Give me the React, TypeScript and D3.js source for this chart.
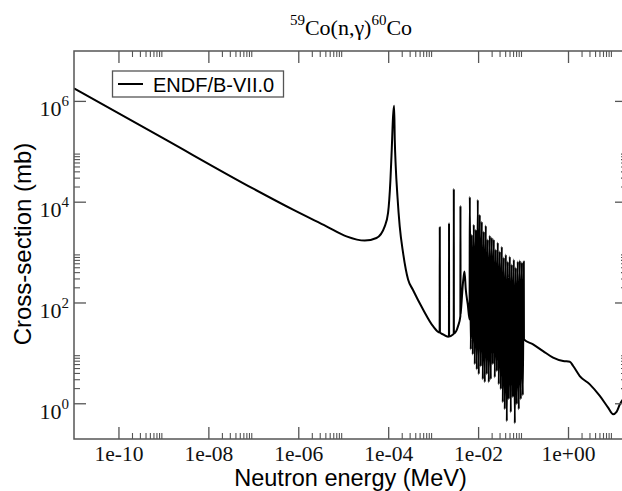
import React from "react";
import * as d3 from "d3";

// ENDF/B-VII.0 59Co(n,g)60Co capture cross-section
// thermal / 1/v region and the 132 eV resonance
const thermalEnergy = [1e-11, 1e-9, 1e-7, 7.45e-7, 4.12e-6, 1.15e-5, 2.93e-5, 5.35e-5, 8.17e-5, 9.68e-5,
  1.094e-4, 1.169e-4, 1.25e-4, 1.32e-4, 1.365e-4, 1.435e-4, 1.567e-4, 1.76e-4, 2.09e-4, 2.7e-4,
  3.43e-4, 5.82e-4, 9.7e-4];
const thermalSigma = [1.82e6, 1.82e5, 1.83e4, 7.1e3, 3.32e3, 2.1e3, 1.73e3, 1.95e3, 3.32e3, 6.11e3,
  2.79e4, 1.1e5, 5.0e5, 8.15e5, 1.73e5, 5.12e4, 1.3e4, 3.32e3, 986, 292,
  185, 74.3, 34.7];

// isolated narrow resonances between 1 keV and 6 keV
const isolatedEnergy = [1.36e-3, 1.37e-3, 1.38e-3, 1.62e-3, 2.09e-3, 2.19e-3, 2.2e-3, 2.21e-3, 2.7e-3,
  2.8e-3, 2.81e-3, 2.82e-3, 3.49e-3, 3.93e-3, 3.95e-3, 3.97e-3, 4.01e-3, 4.52e-3, 4.85e-3, 5.19e-3,
  5.74e-3, 6.3e-3];
const isolatedSigma = [26, 3.17e3, 26, 23.8, 21.4, 21.5, 3.87e3, 21.5, 23.8,
  24.5, 1.85e4, 25, 34.7, 55, 8.5e3, 60, 64.9, 267, 421, 185,
  93.4, 47];

// resolved resonance forest, 6 keV - 100 keV
const forestEnergy = [6.37e-3, 6.7e-3, 7.05e-3, 7.42e-3, 7.81e-3, 8.22e-3, 8.66e-3, 9.12e-3, 9.59e-3, 1.009e-2,
  1.062e-2, 1.118e-2, 1.177e-2, 1.239e-2, 1.304e-2, 1.373e-2, 1.445e-2, 1.521e-2, 1.6e-2, 1.685e-2,
  1.774e-2, 1.867e-2, 1.965e-2, 2.068e-2, 2.18e-2, 2.29e-2, 2.41e-2, 2.54e-2, 2.67e-2, 2.81e-2,
  2.96e-2, 3.12e-2, 3.28e-2, 3.45e-2, 3.63e-2, 3.82e-2, 4.03e-2, 4.24e-2, 4.46e-2, 4.69e-2,
  4.94e-2, 5.2e-2, 5.47e-2, 5.76e-2, 6.07e-2, 6.39e-2, 6.72e-2, 7.07e-2, 7.44e-2, 7.83e-2,
  8.25e-2, 8.68e-2, 9.14e-2, 9.62e-2, 0.1012];
const forestSigma = [1.28e4, 12, 2.27e3, 9.5, 3.58e3, 6.1, 2.85e3, 4.8, 1.12e4, 3.84,
  5.65e3, 5.5, 4.11e3, 3.05, 2.61e3, 2.67, 3.43e3, 3.84, 1.81e3, 2.67,
  2.17e3, 3.05, 1.98e3, 6.1, 1.81e3, 3.35, 1.15e3, 4.4, 1.58e3, 2.43,
  1.05e3, 1.94, 1.31e3, 1.07, 796, 0.78, 912, 0.45, 663, 1.23,
  834, 0.68, 578, 1.35, 726, 0.41, 505, 0.98, 663, 0.78,
  695, 1.23, 634, 1.47, 663];

// fast region
const fastEnergy = [0.102, 0.163, 0.272, 0.454, 0.759, 1.07, 1.27, 1.78, 2.98, 4.97, 7.6, 9.82, 11.7, 13.9, 20];
const fastSigma = [19, 15.1, 11.1, 8.22, 7.04, 6.85, 5.61, 3.55, 2.43, 1.43, 0.84, 0.62, 0.69, 0.98, 1.5];

const xMajorTicks = [1e-10, 1e-8, 1e-6, 1e-4, 1e-2, 1];
const xTickLabels = ["1e-10", "1e-08", "1e-06", "1e-04", "1e-02", "1e+00"];
const yMajorTicks = [1, 1e2, 1e4, 1e6];
const yTickExponents = ["0", "2", "4", "6"];
const yMinorDecades = [1, 1e2, 1e4];
const minorMultipliers = [2, 3, 4, 5, 6, 7, 8, 9];

const W = 622, H = 491;
const L = 74, R = 627, T = 51, B = 439;
const serif = "'Liberation Serif', 'Times New Roman', serif";
const sans = "'Liberation Sans', Arial, sans-serif";
const axisColor = "#555";

export default function App() {
  const x = d3.scaleLog().domain([1e-11, 20]).range([L, R]);
  const y = d3.scaleLog().domain([0.2, 1e7]).range([B, T]);

  const energy = [...thermalEnergy, ...isolatedEnergy, ...forestEnergy, ...fastEnergy];
  const sigma = [...thermalSigma, ...isolatedSigma, ...forestSigma, ...fastSigma];
  const pts: [number, number][] = energy.map((e, i) => [e, sigma[i]]);
  const line = d3.line<[number, number]>().x(d => x(d[0])).y(d => y(d[1])).curve(d3.curveMonotoneX);

  const xMinor: number[] = [];
  xMajorTicks.forEach(m => minorMultipliers.forEach(k => xMinor.push(m * k)));
  const yMinor: number[] = [];
  yMinorDecades.forEach(m => minorMultipliers.forEach(k => yMinor.push(m * k)));

  const major = 12, minor = 6;

  return (
    <svg width={W} height={H} style={{ position: "absolute", left: 0, top: 0, background: "#fff" }}>
      <rect x={0} y={0} width={W} height={H} fill="#fff" />
      <defs>
        <clipPath id="plotClip">
          <rect x={L} y={T} width={R - L} height={B - T} />
        </clipPath>
      </defs>

      {/* title */}
      <text x={351} y={35} textAnchor="middle" fontFamily={serif} fontSize={22} fill="#000">
        <tspan fontSize={15} dy={-10}>59</tspan>
        <tspan dy={10}>Co(n,γ)</tspan>
        <tspan fontSize={15} dy={-10}>60</tspan>
        <tspan dy={10}>Co</tspan>
      </text>

      {/* data */}
      <path d={line(pts) || ""} fill="none" stroke="#000" strokeWidth={2} strokeLinejoin="round" clipPath="url(#plotClip)" />

      {/* frame */}
      <rect x={L} y={T} width={R - L} height={B - T} fill="none" stroke={axisColor} strokeWidth={1.5} />

      {/* x ticks */}
      {xMajorTicks.map((t, i) => (
        <g key={"xm" + i}>
          <line x1={x(t)} x2={x(t)} y1={B} y2={B - major} stroke={axisColor} strokeWidth={1.3} />
          <line x1={x(t)} x2={x(t)} y1={T} y2={T + major} stroke={axisColor} strokeWidth={1.3} />
          <text x={x(t)} y={460.5} textAnchor="middle" fontFamily={serif} fontSize={21.5} fill="#111">{xTickLabels[i]}</text>
        </g>
      ))}
      {xMinor.map((t, i) => (
        <g key={"xn" + i}>
          <line x1={x(t)} x2={x(t)} y1={B} y2={B - minor} stroke={axisColor} strokeWidth={1.1} />
          <line x1={x(t)} x2={x(t)} y1={T} y2={T + minor} stroke={axisColor} strokeWidth={1.1} />
        </g>
      ))}

      {/* y ticks */}
      {yMajorTicks.map((t, i) => (
        <g key={"ym" + i}>
          <line x1={L} x2={L + major} y1={y(t)} y2={y(t)} stroke={axisColor} strokeWidth={1.3} />
          <line x1={R} x2={R - major} y1={y(t)} y2={y(t)} stroke={axisColor} strokeWidth={1.3} />
          <text x={69} y={y(t) + 15} textAnchor="end" fontFamily={serif} fontSize={22} fill="#111">
            10<tspan fontSize={15} dy={-10}>{yTickExponents[i]}</tspan>
          </text>
        </g>
      ))}
      {yMinor.map((t, i) => (
        <g key={"yn" + i}>
          <line x1={L} x2={L + minor} y1={y(t)} y2={y(t)} stroke={axisColor} strokeWidth={1.1} />
          <line x1={R} x2={R - minor} y1={y(t)} y2={y(t)} stroke={axisColor} strokeWidth={1.1} />
        </g>
      ))}

      {/* axis labels */}
      <text x={350.5} y={486} textAnchor="middle" fontFamily={sans} fontSize={23.5} fill="#000">Neutron energy (MeV)</text>
      <text transform="translate(31,244) rotate(-90)" textAnchor="middle" fontFamily={sans} fontSize={24} fill="#000">Cross-section (mb)</text>

      {/* legend */}
      <rect x={112.5} y={71} width={171} height={26} fill="#fff" stroke={axisColor} strokeWidth={1.3} />
      <line x1={118} x2={143} y1={84} y2={84} stroke="#000" strokeWidth={2} />
      <text x={153} y={91.5} fontFamily={sans} fontSize={20} fill="#000">ENDF/B-VII.0</text>
    </svg>
  );
}
